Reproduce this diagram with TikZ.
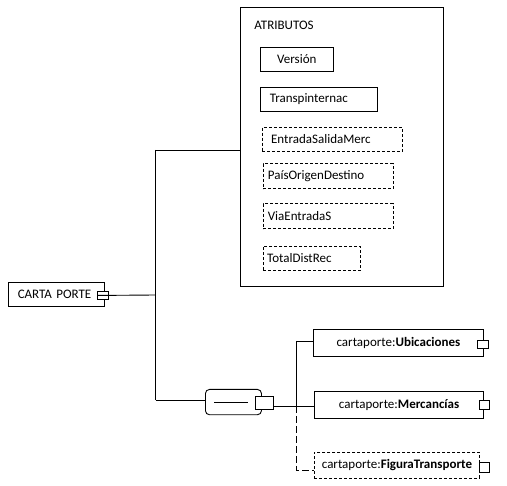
\documentclass[tikz,border=0pt]{standalone}
\usepackage{fontspec}
\setmainfont{Carlito}
\begin{document}
\begin{tikzpicture}[x=1pt,y=-1pt,
  every path/.style={line width=0.9pt},
  lbl/.style={font=\fontsize{13}{15}\selectfont},
  box/.style={draw, line width=0.9pt, inner sep=0pt, anchor=north west, lbl},
  dbox/.style={box, dash pattern=on 3pt off 2pt},
  port/.style={draw, fill=white, line width=0.9pt, inner sep=0pt, anchor=north west},
  optline/.style={dash pattern=on 7pt off 3pt}]
\useasboundingbox (0,0) rectangle (507,486);
% attributes container
\node[draw, line width=0.9pt, anchor=north west, minimum width=203.3pt, minimum height=279pt, inner sep=0pt] (atr) at (240,7) {};
\node[lbl, anchor=west, inner sep=0pt] (atrl) at (254,25) {ATRIBUTOS};
\node[box, minimum width=72.7pt, minimum height=24.6pt] (ver) at (260,46.7) {Versión};
\node[box, minimum width=116.7pt, minimum height=24.3pt, inner xsep=9.3pt, text width=98.1pt, align=left] (tra) at (260,86.7) {Transpinternac};
\node[dbox, minimum width=140pt, minimum height=24.6pt, inner xsep=9pt, text width=122pt, align=left] (ent) at (261.7,126.7) {EntradaSalidaMerc};
\node[dbox, minimum width=130pt, minimum height=25pt, inner xsep=4.7pt, text width=120.6pt, align=left] (pai) at (262.7,163.3) {PaísOrigenDestino};
\node[dbox, minimum width=130pt, minimum height=25pt, inner xsep=4.7pt, text width=120.6pt, align=left] (via) at (262.7,203.3) {ViaEntradaS};
\node[dbox, minimum width=97.3pt, minimum height=24.3pt, inner xsep=4pt, text width=89.3pt, align=left] (tot) at (262.7,245.7) {TotalDistRec};
% root
\node[box, minimum width=95.4pt, minimum height=24pt, inner xsep=9pt, text width=77.4pt, align=left] (cp) at (8.3,282.3) {CARTA PORTE};
\node[port, minimum width=10.4pt, minimum height=8.6pt] (cpsq) at (97.3,290.7) {};
% sequence
\node[draw, line width=0.9pt, rounded corners=4pt, anchor=north west, minimum width=56pt, minimum height=25.3pt, inner sep=0pt] (seq) at (205,389) {};
\draw (214,402.3) -- (248.3,402.3);
\node[port, minimum width=18pt, minimum height=13pt] (seqsq) at (255.3,396.3) {};
% children
\node[box, minimum width=169.4pt, minimum height=26.4pt] (ubi) at (313.3,329.3) {cartaporte:\textbf{Ubicaciones}};
\node[port, minimum width=10.4pt, minimum height=8.3pt] (ubisq) at (477.3,340) {};
\node[box, minimum width=169.3pt, minimum height=27.3pt] (mer) at (314,391) {cartaporte:\textbf{Mercancías}};
\node[port, minimum width=10.3pt, minimum height=9.3pt] (mersq) at (479,400) {};
\node[dbox, minimum width=165pt, minimum height=26pt] (fig) at (314,451.7) {cartaporte:\textbf{FiguraTransporte}};
\node[port, minimum width=10pt, minimum height=9.4pt] (figsq) at (479,462.3) {};
% connectors
\coordinate (jtop) at (155.7,150);
\coordinate (jmid) at (155.7,295);
\coordinate (jbot) at (155.7,400);
\coordinate (bt) at (296.3,341);
\coordinate (bm) at (296.3,406);
\coordinate (bb) at (296.3,470);
\draw (cpsq.west) -- (jmid);
\draw (jtop) -- (jbot);
\draw (jtop) -- (jtop -| atr.west);
\draw (jbot) -- (jbot -| seq.west);
\draw (seqsq.east |- bm) -- (bm -| mer.west);
\draw (bt) -- (bt -| ubi.west);
\draw (bt) -- (bm);
\draw[optline] (bm) -- (bb) -- (bb -| fig.west);
\end{tikzpicture}
\end{document}
